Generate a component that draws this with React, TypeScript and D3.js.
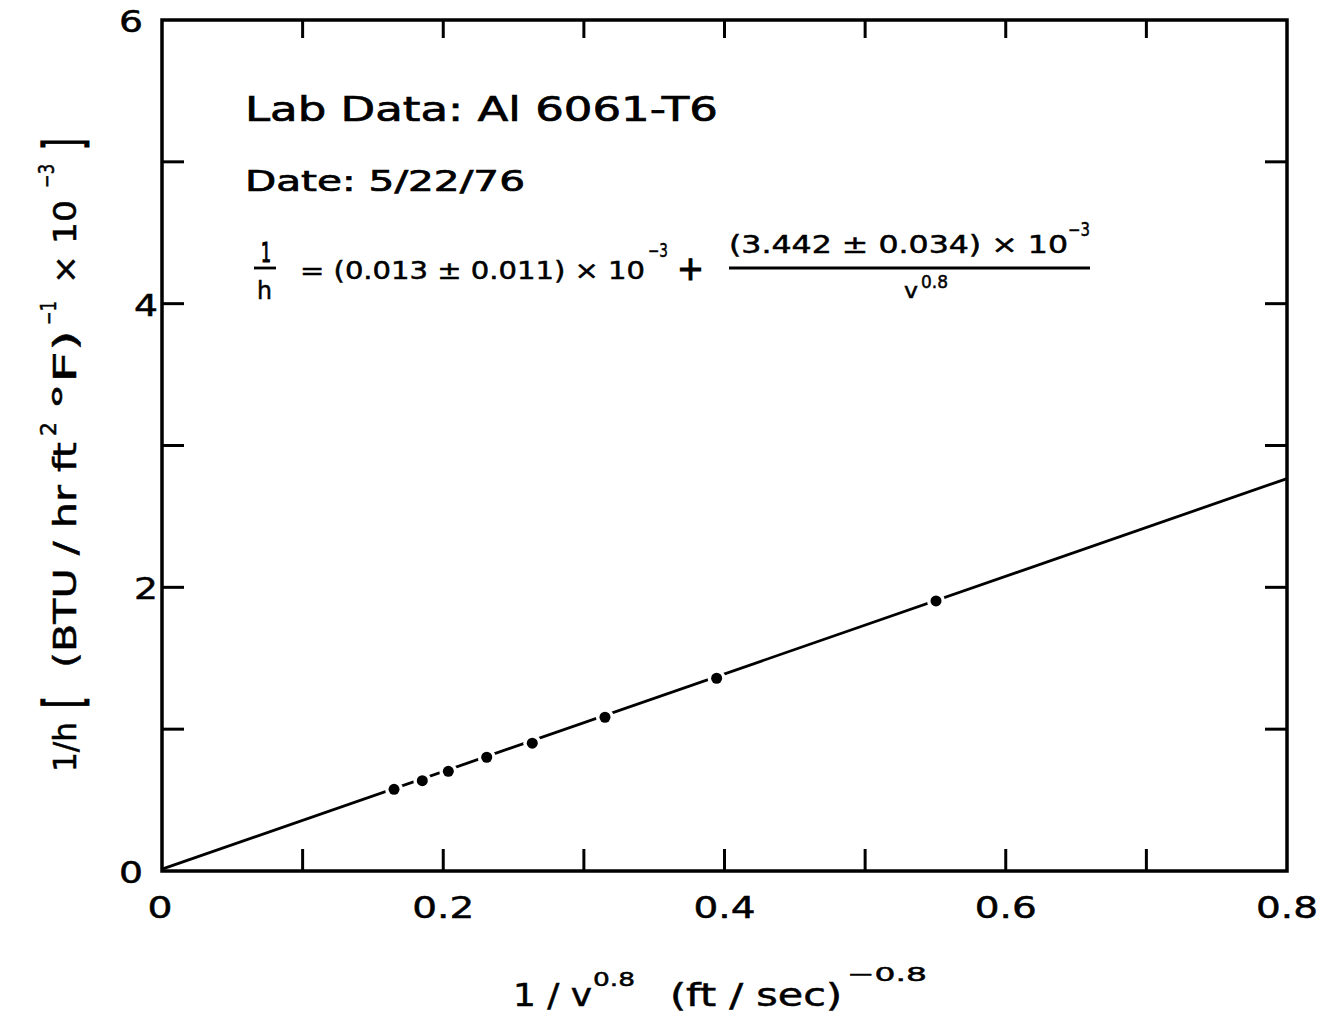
import React from "react";
import * as d3 from "d3";

// Measured 1/h against 1/v^0.8 for Al 6061-T6
const invV08 = [0.165, 0.1851, 0.2036, 0.2309, 0.2633, 0.315, 0.3944, 0.5504];
const invH = [0.576, 0.637, 0.703, 0.802, 0.901, 1.084, 1.359, 1.904];

// Least-squares fit reported on the chart (units of 10^-3)
const fitIntercept = 0.013;
const fitSlope = 3.442;

const xTicks = [0, 0.1, 0.2, 0.3, 0.4, 0.5, 0.6, 0.7, 0.8];
const xTickLabels = ["0", "0.2", "0.4", "0.6", "0.8"];
const yTicks = [0, 1, 2, 3, 4, 5, 6];
const yTickLabels = ["0", "2", "4", "6"];

const W = 1322;
const H = 1014;
const FONT = "'DejaVu Sans', 'Liberation Sans', sans-serif";

// stretched lettering: glyphs widened to a given run length
function Letter(props: any) {
  const { len, children, sw, ...rest } = props;
  return (
    <text
      {...rest}
      textLength={len}
      lengthAdjust="spacingAndGlyphs"
      stroke="#000"
      strokeWidth={sw ?? 0.5}
    >
      {children}
    </text>
  );
}

// tall delimiter for the rotated y title
function Bracket({ u, ch }: { u: number; ch: string }) {
  return (
    <g transform={`translate(${u}, 6) scale(1, 1.75)`}>
      <text x={0} y={0} fontSize={30} stroke="#000" strokeWidth={0.8}>
        {ch}
      </text>
    </g>
  );
}

export default function App() {
  const x = d3.scaleLinear().domain([0, 0.8]).range([162, 1287]);
  const y = d3.scaleLinear().domain([0, 6]).range([871, 20]);

  const fitLine = d3
    .line<number>()
    .x((d) => x(d))
    .y((d) => y(fitIntercept + fitSlope * d));

  const [x0, x1] = x.range();
  const [y0, y1] = y.range();
  const tickB = 22;
  const tickT = 18;
  const tickS = 22;

  // y-title runs upward from this point; u = distance along the title
  const yt = { x: 76, y: 772 };

  return (
    <svg
      width={W}
      height={H}
      viewBox={`0 0 ${W} ${H}`}
      style={{ position: "absolute", left: 0, top: 0, background: "#fff" }}
      fontFamily={FONT}
    >
      <rect x={0} y={0} width={W} height={H} fill="#fff" />

      {/* fitted line */}
      <path d={fitLine([0, 0.8]) || ""} fill="none" stroke="#000" strokeWidth={2.8} />

      {/* data points with a small clear gap around each */}
      {invV08.map((v, i) => (
        <g key={i}>
          <circle cx={x(v)} cy={y(invH[i])} r={9} fill="#fff" />
          <circle cx={x(v)} cy={y(invH[i])} r={5.5} fill="#000" />
        </g>
      ))}

      {/* frame */}
      <rect
        x={x0}
        y={y1}
        width={x1 - x0}
        height={y0 - y1}
        fill="none"
        stroke="#000"
        strokeWidth={3.5}
      />

      {/* x ticks, bottom and top, pointing inward */}
      {xTicks.slice(1, -1).map((t) => (
        <g key={"xt" + t} stroke="#000" strokeWidth={3}>
          <line x1={x(t)} x2={x(t)} y1={y0} y2={y0 - tickB} />
          <line x1={x(t)} x2={x(t)} y1={y1} y2={y1 + tickT} />
        </g>
      ))}

      {/* y ticks, left and right, pointing inward */}
      {yTicks.slice(1, -1).map((t) => (
        <g key={"yt" + t} stroke="#000" strokeWidth={3}>
          <line x1={x0} x2={x0 + tickS} y1={y(t)} y2={y(t)} />
          <line x1={x1} x2={x1 - tickS} y1={y(t)} y2={y(t)} />
        </g>
      ))}

      {/* tick labels */}
      {xTickLabels.map((s) => (
        <Letter
          key={"xl" + s}
          x={x(+s) + (+s === 0 ? -2 : 0)}
          y={918}
          fontSize={31}
          textAnchor="middle"
          len={s.length === 1 ? 25 : 62}
        >
          {s}
        </Letter>
      ))}
      {yTickLabels.map((s) => {
        const v = +s;
        const edge = v === 0 || v === 6 ? 143 : 158;
        return (
          <Letter
            key={"yl" + s}
            x={edge - 24}
            y={y(v) + 12}
            fontSize={31}
            len={24}
          >
            {s}
          </Letter>
        );
      })}

      {/* annotation block */}
      <Letter x={245} y={121} fontSize={34} len={473} sw={0.7}>
        Lab Data: Al 6061-T6
      </Letter>
      <Letter x={245} y={191} fontSize={28} len={280} sw={0.7}>
        Date: 5/22/76
      </Letter>

      {/* 1/h = (a ± da)×10^-3 + (b ± db)×10^-3 / v^0.8 */}
      <g>
        <Letter x={261} y={262} fontSize={26} len={10} sw={1.2}>1</Letter>
        <line x1={254} x2={276} y1={268} y2={268} stroke="#000" strokeWidth={2.8} />
        <Letter x={257} y={299} fontSize={24} len={15}>h</Letter>

        <Letter x={300} y={279} fontSize={24} len={345}>
          = (0.013 ± 0.011) × 10
        </Letter>
        <Letter x={648} y={257} fontSize={19} len={20}>−3</Letter>
        <Letter x={677} y={280} fontSize={34} len={27} sw={1.2}>+</Letter>

        <Letter x={729} y={253} fontSize={24} len={339}>
          (3.442 ± 0.034) × 10
        </Letter>
        <Letter x={1068} y={236} fontSize={19} len={22}>−3</Letter>
        <line x1={729} x2={1090} y1={268} y2={268} stroke="#000" strokeWidth={2.8} />
        <Letter x={904} y={298} fontSize={22} len={14}>v</Letter>
        <Letter x={921} y={288} fontSize={18} len={27}>0.8</Letter>
      </g>

      {/* x-axis title */}
      <g>
        <Letter x={513} y={1006} fontSize={32} len={79}>1 / v</Letter>
        <Letter x={593} y={986} fontSize={20} len={42}>0.8</Letter>
        <Letter x={670} y={1006} fontSize={32} len={172}>(ft / sec)</Letter>
        <Letter x={847} y={981} fontSize={20} len={80}>−0.8</Letter>
      </g>

      {/* y-axis title, rotated to read upward */}
      <g transform={`translate(${yt.x}, ${yt.y}) rotate(-90)`}>
        <Letter x={0} y={0} fontSize={32} len={50}>1/h</Letter>
        <Bracket u={64} ch="[" />
        <Letter x={104} y={0} fontSize={32} len={226}>(BTU / hr ft</Letter>
        <Letter x={336} y={-20} fontSize={21} len={14}>2</Letter>
        <Letter x={362} y={0} fontSize={32} len={80}>°F)</Letter>
        <Letter x={447} y={-20} fontSize={21} len={24}>−1</Letter>
        <Letter x={488} y={0} fontSize={32} len={84}>× 10</Letter>
        <Letter x={584} y={-22} fontSize={21} len={24}>−3</Letter>
        <Bracket u={622} ch="]" />
      </g>
    </svg>
  );
}
